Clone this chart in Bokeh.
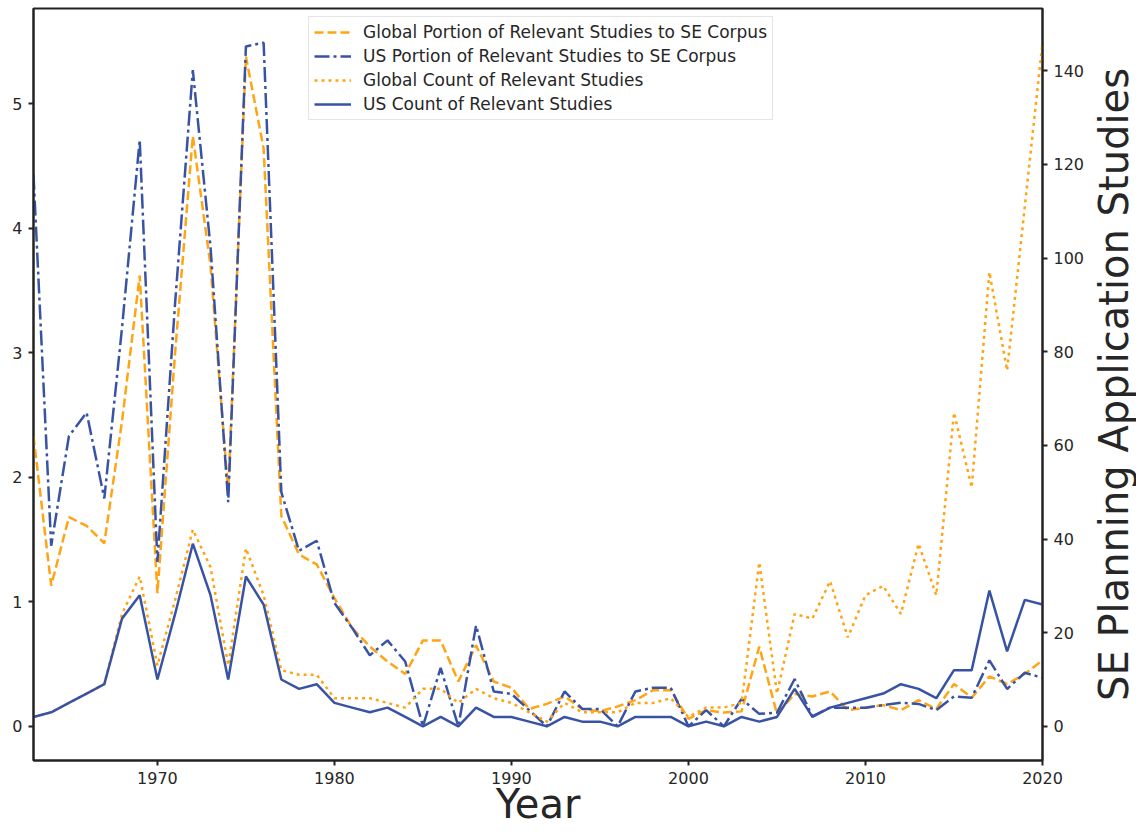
from bokeh.plotting import figure
from bokeh.layouts import row
from bokeh.models import Range1d, LinearAxis, Legend, LegendItem, FixedTicker
from bokeh.embed import file_html
from bokeh.resources import INLINE

years = list(range(1963, 2021))

global_portion = [2.33, 1.13, 1.68, 1.61, 1.47, 2.45, 3.62, 1.07, 3.0, 4.74,
                  3.7, 1.88, 5.38, 4.64, 1.69, 1.38, 1.30, 1.03, 0.79, 0.64,
                  0.52, 0.42, 0.69, 0.69, 0.36, 0.65, 0.36, 0.31, 0.14, 0.18,
                  0.24, 0.14, 0.12, 0.16, 0.21, 0.29, 0.29, 0.06, 0.13, 0.11,
                  0.12, 0.64, 0.10, 0.26, 0.24, 0.28, 0.13, 0.15, 0.17, 0.13,
                  0.21, 0.14, 0.34, 0.23, 0.40, 0.34, 0.42, 0.53]

us_portion = [4.43, 1.45, 2.33, 2.52, 1.83, 3.2, 4.71, 1.32, 3.4, 5.27,
              3.85, 1.80, 5.46, 5.49, 1.88, 1.41, 1.49, 0.99, 0.79, 0.57,
              0.69, 0.52, 0.0, 0.47, 0.0, 0.81, 0.28, 0.26, 0.13, 0.0,
              0.28, 0.14, 0.14, 0.0, 0.28, 0.31, 0.31, 0.0, 0.13, 0.0,
              0.22, 0.10, 0.11, 0.38, 0.08, 0.15, 0.15, 0.15, 0.17, 0.19,
              0.18, 0.13, 0.24, 0.23, 0.53, 0.30, 0.43, 0.39]

global_count = [2, 3, 5, 7, 9, 24, 32, 13, 27, 42,
                34, 13, 38, 28, 12, 11, 11, 6, 6, 6,
                5, 4, 8, 8, 5, 8, 6, 5, 3, 1,
                5, 3, 3, 3, 5, 5, 6, 2, 4, 4,
                5, 35, 7, 24, 23, 31, 19, 28, 30, 24,
                39, 28, 67, 51, 97, 76, 111, 146]

us_count = [2, 3, 5, 7, 9, 23, 28, 10, 24, 39,
            28, 10, 32, 26, 10, 8, 9, 5, 4, 3,
            4, 2, 0, 2, 0, 4, 2, 2, 1, 0,
            2, 1, 1, 0, 2, 2, 2, 0, 1, 0,
            2, 1, 2, 8, 2, 4, 5, 6, 7, 9,
            8, 6, 12, 12, 29, 16, 27, 26]

labels = ["Global Portion of Relevant Studies to SE Corpus",
          "US Portion of Relevant Studies to SE Corpus",
          "Global Count of Relevant Studies",
          "US Count of Relevant Studies"]
x_title = "Year"
y2_title = "SE Planning Application Studies"

ORANGE = "#ffa515"
BLUE = "#3953a4"
TXT = "#262626"
FONT = "DejaVu Sans"

def padded(lo, hi, frac=0.05):
    d = (hi - lo) * frac
    return lo - d, hi + d

lmin, lmax = padded(0, max(max(global_portion), max(us_portion)))
rmin, rmax = padded(0, max(max(global_count), max(us_count)))

H = 831
p = figure(width=1087, height=H, output_backend="svg", toolbar_location=None,
           x_range=Range1d(1963, 2020), y_range=Range1d(lmin, lmax),
           min_border_left=33, min_border_right=44, min_border_top=8,
           min_border_bottom=70)
p.extra_y_ranges = {"count": Range1d(rmin, rmax)}

p.grid.visible = False
p.outline_line_color = "#222222"
p.outline_line_width = 2
p.background_fill_color = "white"
p.border_fill_color = "white"

r1 = p.line(years, global_portion, color=ORANGE, line_width=2.5, line_dash="9 4")
r2 = p.line(years, us_portion, color=BLUE, line_width=2.5, line_dash="15 4 3 4")
r3 = p.line(years, global_count, color=ORANGE, line_width=2.5, line_dash="3 4",
            y_range_name="count")
r4 = p.line(years, us_count, color=BLUE, line_width=2.5, y_range_name="count")

right = LinearAxis(y_range_name="count")
p.add_layout(right, "right")

p.xaxis.axis_label = x_title
p.xaxis.ticker = FixedTicker(ticks=[1970, 1980, 1990, 2000, 2010, 2020])
p.yaxis[0].ticker = FixedTicker(ticks=[0, 1, 2, 3, 4, 5])
right.ticker = FixedTicker(ticks=[0, 20, 40, 60, 80, 100, 120, 140])

for ax in [p.xaxis[0], p.yaxis[0], right]:
    ax.axis_line_width = 2
    ax.axis_line_color = "#222222"
    ax.major_tick_line_width = 2
    ax.major_tick_line_color = "#222222"
    ax.major_tick_out = 5
    ax.major_tick_in = 0
    ax.minor_tick_line_color = None
    ax.major_label_text_font = FONT
    ax.major_label_text_font_size = "16px"
    ax.major_label_text_color = TXT
    ax.major_label_standoff = 6
    ax.axis_label_text_font = FONT
    ax.axis_label_text_font_style = "normal"
    ax.axis_label_text_font_size = "40px"
    ax.axis_label_text_color = TXT

p.xaxis.axis_label_standoff = -6

legend = Legend(items=[LegendItem(label=labels[0], renderers=[r1]),
                       LegendItem(label=labels[1], renderers=[r2]),
                       LegendItem(label=labels[2], renderers=[r3]),
                       LegendItem(label=labels[3], renderers=[r4])],
                location=(275, 640))
legend.label_text_font = FONT
legend.label_text_font_size = "17px"
legend.label_text_color = TXT
legend.glyph_width = 37
legend.glyph_height = 20
legend.label_height = 20
legend.spacing = 4
legend.padding = 5
legend.margin = 0
legend.label_standoff = 12
legend.border_line_color = "#cccccc"
legend.border_line_width = 1.5
legend.background_fill_alpha = 0.85
p.add_layout(legend, "center")

# narrow companion figure that carries the right-hand axis title (reads upward)
side = figure(width=49, height=H, output_backend="svg", toolbar_location=None,
              x_range=Range1d(0, 1), y_range=Range1d(rmin, rmax),
              min_border_left=0, min_border_right=0, min_border_top=8,
              min_border_bottom=71)
side.grid.visible = False
side.outline_line_color = None
side.xaxis.visible = False
side.border_fill_color = "white"
side.background_fill_color = "white"
sa = side.yaxis[0]
sa.ticker = FixedTicker(ticks=[])
sa.axis_line_color = None
sa.major_tick_line_color = None
sa.minor_tick_line_color = None
sa.axis_label = y2_title
sa.axis_label_standoff = 0
sa.axis_label_text_font = FONT
sa.axis_label_text_font_style = "normal"
sa.axis_label_text_font_size = "40px"
sa.axis_label_text_color = TXT

layout = row(p, side, spacing=0)
open("out.html", "w").write(file_html(layout, INLINE))
